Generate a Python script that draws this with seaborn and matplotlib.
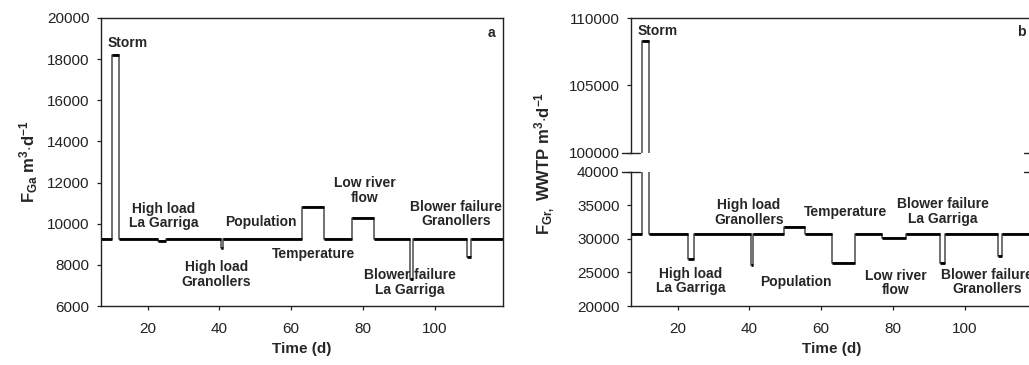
import matplotlib
matplotlib.use("Agg")
import matplotlib.pyplot as plt
import seaborn as sns

# Influent flow scenarios: step changes (day, flow after that day)
days_ga = [7, 10, 12, 23, 25, 40.5, 41, 63, 69, 77, 83, 93, 94, 109, 110, 119]
flow_ga = [9250, 18200, 9250, 9150, 9250, 8800, 9250, 10800, 9250, 10300, 9250,
           7300, 9250, 8400, 9250, 9250]

days_gr = [7, 10, 12, 23, 24.5, 40.5, 41, 49.5, 55.5, 63, 69.5, 77, 83.5, 93,
           94.5, 109.3, 110.5, 119]
flow_gr = [30700, 108300, 30700, 27000, 30700, 26100, 30700, 31800, 30700,
           26400, 30700, 30100, 30700, 26400, 30700, 27500, 30700, 30700]

xticks = [20, 40, 60, 80, 100]
yticks_ga = [6000, 8000, 10000, 12000, 14000, 16000, 18000, 20000]
yticks_gr_low = [20000, 25000, 30000, 35000, 40000]
yticks_gr_high = [100000, 105000, 110000]

events_ga = ["Storm", "High load\nLa Garriga", "Population", "High load\nGranollers",
             "Temperature", "Low river\nflow", "Blower failure\nGranollers",
             "Blower failure\nLa Garriga"]
events_gr_low = ["High load\nGranollers", "Temperature", "Blower failure\nLa Garriga",
                 "High load\nLa Garriga", "Population", "Low river\nflow",
                 "Blower failure\nGranollers"]

sns.set_style("ticks")
plt.rcParams["font.family"] = ["Liberation Sans", "DejaVu Sans"]
plt.rcParams["mathtext.fontset"] = "custom"
plt.rcParams["mathtext.rm"] = "Liberation Sans"
plt.rcParams["mathtext.bf"] = "Liberation Sans:bold"
plt.rcParams["mathtext.it"] = "Liberation Sans:italic"
plt.rcParams["axes.edgecolor"] = "#222222"
plt.rcParams["axes.linewidth"] = 1.0
for ax_ in ("x", "y"):
    plt.rcParams[f"{ax_}tick.major.size"] = 3.2
    plt.rcParams[f"{ax_}tick.major.width"] = 0.9
    plt.rcParams[f"{ax_}tick.labelsize"] = 11
    plt.rcParams[f"{ax_}tick.color"] = "#222222"
plt.rcParams["xtick.major.pad"] = 8.5
plt.rcParams["ytick.major.pad"] = 5.0

W, H = 1029, 365
fig = plt.figure(figsize=(W / 100, H / 100), dpi=100)

def frac_box(x0, x1, ytop, ybot):
    return [x0 / W, (H - ybot) / H, (x1 - x0) / W, (ybot - ytop) / H]

ax_a = fig.add_axes(frac_box(101, 503, 18, 306))
ax_bh = fig.add_axes(frac_box(631, 1033, 18, 152.7))
ax_bl = fig.add_axes(frac_box(631, 1033, 171.7, 306))

def draw_steps(ax, days, flow):
    sns.lineplot(x=days, y=flow, drawstyle="steps-post", color="#4a4a4a",
                 lw=1.1, ax=ax, legend=False, sort=False)
    ax.hlines(flow[:-1], days[:-1], days[1:], color="black", lw=2.0)

draw_steps(ax_a, days_ga, flow_ga)
draw_steps(ax_bh, days_gr, flow_gr)
draw_steps(ax_bl, days_gr, flow_gr)

for ax in (ax_a, ax_bh, ax_bl):
    ax.set_xlim(7, 119)
    ax.set_xticks(xticks)
    ax.set_xlabel("")
    ax.set_ylabel("")

ax_a.set_ylim(6000, 20000)
ax_a.set_yticks(yticks_ga)
ax_bl.set_ylim(20000, 40000)
ax_bl.set_yticks(yticks_gr_low)
ax_bh.set_ylim(100000, 110000)
ax_bh.set_yticks(yticks_gr_high)

# broken axis: hide the facing spines of the two halves
ax_bh.spines["bottom"].set_visible(False)
ax_bh.tick_params(axis="x", bottom=False, labelbottom=False)
ax_bl.spines["top"].set_visible(False)
for ax, yb in ((ax_bh, 0.0), (ax_bl, 1.0)):
    for x0, x1 in ((-0.022, 0.022), (0.978, 1.022)):
        ax.plot([x0, x1], [yb, yb], transform=ax.transAxes, color="#222222",
                lw=1.0, clip_on=False)

lab_kw = dict(fontsize=11, fontweight="bold")
ax_a.set_xlabel("Time (d)", labelpad=4, **lab_kw)
ax_bl.set_xlabel("Time (d)", labelpad=4, **lab_kw)
ax_a.set_ylabel(r"$\mathbf{F_{Ga}\ m^{3}{\cdot}d^{-1}}$", fontsize=12, labelpad=5)
fig.text(545 / W, (H - 163) / H, r"$\mathbf{F_{Gr,}\ WWTP\ m^{3}{\cdot}d^{-1}}$",
         rotation=90, ha="center", va="center", fontsize=12)

ann = dict(fontsize=10, fontweight="bold", ha="center", va="center",
           linespacing=1.05)
pos_ga = [(14.5, 18770), (24.5, 10375), (51.5, 10070), (39.1, 7520),
          (66.1, 8513), (80.4, 11615), (106.0, 10463), (93.1, 7150)]
for txt, (x, y) in zip(events_ga, pos_ga):
    ax_a.text(x, y, txt, **ann)
ax_a.text(115.8, 19255, "a", **ann)

ax_bh.text(14.4, 109000, "Storm", **ann)
ax_bh.text(115.7, 108960, "b", **ann)
pos_gr = [(39.9, 33925), (66.8, 33950), (93.8, 34045), (23.7, 23750),
          (52.8, 23620), (80.7, 23425), (106.1, 23575)]
for txt, (x, y) in zip(events_gr_low, pos_gr):
    ax_bl.text(x, y, txt, **ann)

fig.savefig("out.png", dpi=100)
